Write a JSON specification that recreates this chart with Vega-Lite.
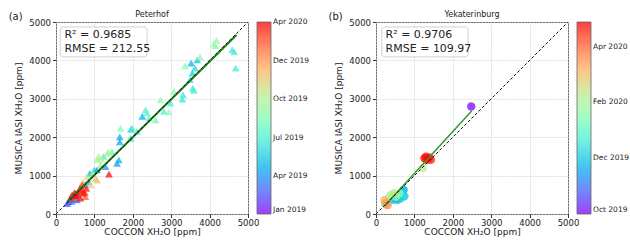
{
  "$schema": "https://vega.github.io/schema/vega-lite/v6.json",
  "padding": {"left": 8, "top": 10, "right": 0, "bottom": 0},
  "config": {
    "font": "DejaVu Sans",
    "view": {"stroke": "#333", "strokeWidth": 1},
    "axis": {"labelFontSize": 8.5, "titleFontSize": 9, "titleFontWeight": "normal", "labelColor": "#222", "titleColor": "#222", "domain": false, "tickColor": "#333", "tickSize": 3.5, "gridColor": "#d9d9d9", "gridDash": [2, 1], "gridWidth": 0.8, "labelFlush": false, "labelOverlap": false, "format": "d", "labelPadding": 2},
    "axisX": {"titlePadding": 0, "labelPadding": 1},
    "axisY": {"titlePadding": 5},
    "legend": {"orient": "right", "offset": 9, "gradientLength": 192, "gradientThickness": 14, "gradientStrokeColor": "#333", "gradientStrokeWidth": 0.8, "labelFontSize": 7.5, "labelColor": "#222", "labelOffset": 5, "labelBaseline": "middle", "labelOverlap": false, "padding": 0}
  },
  "datasets": {
    "diag": [{"x": 0, "y": 0}, {"x": 5000, "y": 5000}],
    "fitA": [{"x": 300, "y": 325}, {"x": 4700, "y": 4660}],
    "fitB": [{"x": 230, "y": 215}, {"x": 2490, "y": 2680}],
    "statsA": [{"line": "R² = 0.9685", "y": 4660}, {"line": "RMSE = 212.55", "y": 4300}],
    "statsB": [{"line": "R² = 0.9706", "y": 4660}, {"line": "RMSE = 109.97", "y": 4300}],
    "tagA": [{"tag": "(a)", "site": "Peterhof"}],
    "tagB": [{"tag": "(b)", "site": "Yekaterinburg"}]
  },
  "spacing": 18,
  "resolve": {"scale": {"color": "independent"}, "legend": {"color": "independent"}},
  "hconcat": [
    {
      "width": 192,
      "height": 192,
      "layer": [
        {
          "data": {"format": {"parse": {"date": "date"}}, "values": [
            {"x": 290, "y": 270, "date": "2019-02-15"},
            {"x": 330, "y": 320, "date": "2019-02-20"},
            {"x": 550, "y": 365, "date": "2019-03-01"},
            {"x": 450, "y": 380, "date": "2019-03-05"},
            {"x": 400, "y": 330, "date": "2019-03-10"},
            {"x": 650, "y": 580, "date": "2019-03-20"},
            {"x": 765, "y": 760, "date": "2019-03-25"},
            {"x": 1070, "y": 1150, "date": "2019-04-01"},
            {"x": 1290, "y": 1230, "date": "2019-04-05"},
            {"x": 1590, "y": 1320, "date": "2019-04-10"},
            {"x": 1660, "y": 1880, "date": "2019-04-15"},
            {"x": 1660, "y": 2010, "date": "2019-04-20"},
            {"x": 1635, "y": 1410, "date": "2019-04-25"},
            {"x": 880, "y": 1060, "date": "2019-04-28"},
            {"x": 2250, "y": 2540, "date": "2019-04-28"},
            {"x": 3520, "y": 3930, "date": "2019-05-01"},
            {"x": 850, "y": 840, "date": "2019-05-05"},
            {"x": 3680, "y": 4010, "date": "2019-05-10"},
            {"x": 1000, "y": 1150, "date": "2019-05-15"},
            {"x": 3550, "y": 3670, "date": "2019-05-20"},
            {"x": 1950, "y": 2200, "date": "2019-05-25"},
            {"x": 3620, "y": 3800, "date": "2019-06-01"},
            {"x": 1940, "y": 1970, "date": "2019-06-05"},
            {"x": 3490, "y": 3500, "date": "2019-06-10"},
            {"x": 3310, "y": 3100, "date": "2019-06-15"},
            {"x": 3290, "y": 2990, "date": "2019-06-18"},
            {"x": 3560, "y": 3280, "date": "2019-06-20"},
            {"x": 4680, "y": 3800, "date": "2019-06-22"},
            {"x": 3590, "y": 3220, "date": "2019-06-24"},
            {"x": 4590, "y": 4280, "date": "2019-06-25"},
            {"x": 1980, "y": 2240, "date": "2019-06-25"},
            {"x": 4640, "y": 4220, "date": "2019-06-28"},
            {"x": 2980, "y": 2890, "date": "2019-06-30"},
            {"x": 2110, "y": 2150, "date": "2019-07-01"},
            {"x": 1240, "y": 1500, "date": "2019-07-01"},
            {"x": 2810, "y": 2670, "date": "2019-07-05"},
            {"x": 2330, "y": 2710, "date": "2019-07-10"},
            {"x": 2370, "y": 2630, "date": "2019-07-15"},
            {"x": 2420, "y": 2500, "date": "2019-07-20"},
            {"x": 1460, "y": 1620, "date": "2019-07-25"},
            {"x": 2590, "y": 2450, "date": "2019-08-05"},
            {"x": 3070, "y": 3190, "date": "2019-08-10"},
            {"x": 1680, "y": 2230, "date": "2019-08-15"},
            {"x": 3360, "y": 3860, "date": "2019-08-20"},
            {"x": 2720, "y": 2970, "date": "2019-08-25"},
            {"x": 4150, "y": 4380, "date": "2019-08-28"},
            {"x": 2940, "y": 2660, "date": "2019-08-30"},
            {"x": 3750, "y": 4090, "date": "2019-09-01"},
            {"x": 4110, "y": 4430, "date": "2019-09-05"},
            {"x": 4180, "y": 4520, "date": "2019-09-10"},
            {"x": 1070, "y": 1410, "date": "2019-09-15"},
            {"x": 1370, "y": 1610, "date": "2019-09-20"},
            {"x": 1160, "y": 1280, "date": "2019-09-25"},
            {"x": 1180, "y": 1430, "date": "2019-10-01"},
            {"x": 1110, "y": 1500, "date": "2019-10-05"},
            {"x": 1330, "y": 1580, "date": "2019-10-10"},
            {"x": 960, "y": 1050, "date": "2019-10-15"},
            {"x": 810, "y": 980, "date": "2019-10-25"},
            {"x": 900, "y": 760, "date": "2019-11-10"},
            {"x": 1070, "y": 880, "date": "2019-11-20"},
            {"x": 1030, "y": 930, "date": "2019-11-25"},
            {"x": 700, "y": 820, "date": "2019-12-05"},
            {"x": 765, "y": 450, "date": "2020-02-10"},
            {"x": 460, "y": 450, "date": "2020-02-20"},
            {"x": 680, "y": 760, "date": "2020-02-25"},
            {"x": 750, "y": 560, "date": "2020-02-28"},
            {"x": 600, "y": 600, "date": "2020-03-05"},
            {"x": 480, "y": 560, "date": "2020-03-08"},
            {"x": 620, "y": 670, "date": "2020-03-10"},
            {"x": 700, "y": 620, "date": "2020-03-12"},
            {"x": 790, "y": 670, "date": "2020-03-15"},
            {"x": 375, "y": 410, "date": "2020-03-18"},
            {"x": 720, "y": 540, "date": "2020-03-20"},
            {"x": 505, "y": 540, "date": "2020-03-22"},
            {"x": 1380, "y": 1040, "date": "2020-03-25"},
            {"x": 560, "y": 520, "date": "2020-03-25"},
            {"x": 635, "y": 410, "date": "2020-03-28"},
            {"x": 420, "y": 500, "date": "2020-03-30"},
            {"x": 520, "y": 480, "date": "2020-04-01"}
          ]},
          "mark": {"type": "point", "shape": "triangle-up", "filled": true, "size": 60, "opacity": 0.75},
          "encoding": {
            "x": {"field": "x", "type": "quantitative", "scale": {"domain": [0, 5000], "nice": false}, "axis": {"title": "COCCON XH₂O [ppm]", "values": [0, 1000, 2000, 3000, 4000, 5000]}},
            "y": {"field": "y", "type": "quantitative", "scale": {"domain": [0, 5000], "nice": false}, "axis": {"title": "MUSICA IASI XH₂O [ppm]", "values": [0, 1000, 2000, 3000, 4000, 5000]}},
            "color": {"field": "date", "type": "quantitative",
              "scale": {"type": "linear", "zero": false, "nice": false, "domain": [1546300800000, 1551236400000, 1556172000000, 1561107600000, 1566043200000, 1570978800000, 1575914400000, 1580850000000, 1585785600000],
                "range": ["#8000ff", "#4062fa", "#00b4ec", "#40ecd4", "#80ffb4", "#bfec8e", "#ffb462", "#ff6232", "#ff0000"], "interpolate": "rgb"},
              "legend": {"title": null, "labelExpr": "utcFormat(datum.value, '%b %Y')",
                "values": [1546300800000, 1554163200000, 1562025600000, 1569888000000, 1577750400000, 1585699200000]}}
          }
        },
        {
          "data": {"name": "fitA"},
          "mark": {"type": "line", "color": "#1f7f1f", "strokeWidth": 2},
          "encoding": {"x": {"field": "x", "type": "quantitative", "axis": {"title": "COCCON XH₂O [ppm]", "values": [0, 1000, 2000, 3000, 4000, 5000]}}, "y": {"field": "y", "type": "quantitative", "axis": {"title": "MUSICA IASI XH₂O [ppm]", "values": [0, 1000, 2000, 3000, 4000, 5000]}}}
        },
        {
          "data": {"name": "diag"},
          "mark": {"type": "line", "color": "#111", "strokeWidth": 1, "strokeDash": [3, 2]},
          "encoding": {"x": {"field": "x", "type": "quantitative", "axis": {"title": "COCCON XH₂O [ppm]", "values": [0, 1000, 2000, 3000, 4000, 5000]}}, "y": {"field": "y", "type": "quantitative", "axis": {"title": "MUSICA IASI XH₂O [ppm]", "values": [0, 1000, 2000, 3000, 4000, 5000]}}}
        },
        {
          "data": {"name": "tagA"},
          "mark": {"type": "rect", "fill": "white", "stroke": "#cccccc", "strokeWidth": 1, "cornerRadius": 3, "opacity": 0.9},
          "encoding": {"x": {"datum": 110, "type": "quantitative", "axis": {"title": "COCCON XH₂O [ppm]", "values": [0, 1000, 2000, 3000, 4000, 5000]}}, "x2": {"datum": 2370}, "y": {"datum": 4870, "type": "quantitative", "axis": {"title": "MUSICA IASI XH₂O [ppm]", "values": [0, 1000, 2000, 3000, 4000, 5000]}}, "y2": {"datum": 4090}}
        },
        {
          "data": {"name": "statsA"},
          "mark": {"type": "text", "align": "left", "baseline": "middle", "fontSize": 11, "color": "#222"},
          "encoding": {"x": {"datum": 220, "type": "quantitative", "axis": {"title": "COCCON XH₂O [ppm]", "values": [0, 1000, 2000, 3000, 4000, 5000]}}, "y": {"field": "y", "type": "quantitative", "axis": {"title": "MUSICA IASI XH₂O [ppm]", "values": [0, 1000, 2000, 3000, 4000, 5000]}}, "text": {"field": "line"}}
        },
        {
          "data": {"name": "tagA"},
          "mark": {"type": "text", "align": "center", "baseline": "middle", "fontSize": 10, "dy": -5, "color": "#222"},
          "encoding": {"x": {"datum": -1050, "type": "quantitative", "axis": {"title": "COCCON XH₂O [ppm]", "values": [0, 1000, 2000, 3000, 4000, 5000]}}, "y": {"datum": 5000, "type": "quantitative", "axis": {"title": "MUSICA IASI XH₂O [ppm]", "values": [0, 1000, 2000, 3000, 4000, 5000]}}, "text": {"field": "tag"}}
        },
        {
          "data": {"name": "tagA"},
          "mark": {"type": "text", "align": "center", "baseline": "middle", "fontSize": 8, "dy": -7, "color": "#222"},
          "encoding": {"x": {"datum": 2500, "type": "quantitative", "axis": {"title": "COCCON XH₂O [ppm]", "values": [0, 1000, 2000, 3000, 4000, 5000]}}, "y": {"datum": 5000, "type": "quantitative", "axis": {"title": "MUSICA IASI XH₂O [ppm]", "values": [0, 1000, 2000, 3000, 4000, 5000]}}, "text": {"field": "site"}}
        }
      ]
    },
    {
      "width": 192,
      "height": 192,
      "layer": [
        {
          "data": {"format": {"parse": {"date": "date"}}, "values": [
            {"x": 2480, "y": 2800, "date": "2019-10-03"},
            {"x": 540, "y": 390, "date": "2019-11-10"},
            {"x": 720, "y": 630, "date": "2019-11-15"},
            {"x": 440, "y": 370, "date": "2019-11-25"},
            {"x": 740, "y": 460, "date": "2019-11-28"},
            {"x": 460, "y": 430, "date": "2019-11-30"},
            {"x": 570, "y": 370, "date": "2019-12-01"},
            {"x": 700, "y": 580, "date": "2019-12-02"},
            {"x": 650, "y": 410, "date": "2019-12-05"},
            {"x": 680, "y": 500, "date": "2019-12-10"},
            {"x": 230, "y": 260, "date": "2020-01-05"},
            {"x": 610, "y": 540, "date": "2020-01-15"},
            {"x": 520, "y": 450, "date": "2020-01-25"},
            {"x": 390, "y": 500, "date": "2020-02-01"},
            {"x": 350, "y": 450, "date": "2020-02-05"},
            {"x": 1220, "y": 1190, "date": "2020-02-10"},
            {"x": 480, "y": 540, "date": "2020-02-15"},
            {"x": 220, "y": 360, "date": "2020-03-10"},
            {"x": 260, "y": 280, "date": "2020-03-15"},
            {"x": 300, "y": 230, "date": "2020-03-20"},
            {"x": 1320, "y": 1410, "date": "2020-04-18"},
            {"x": 1430, "y": 1410, "date": "2020-04-20"},
            {"x": 1350, "y": 1430, "date": "2020-04-22"},
            {"x": 1390, "y": 1470, "date": "2020-04-23"},
            {"x": 1260, "y": 1450, "date": "2020-04-25"},
            {"x": 1300, "y": 1490, "date": "2020-04-27"}
          ]},
          "mark": {"type": "circle", "size": 70, "opacity": 0.75},
          "encoding": {
            "x": {"field": "x", "type": "quantitative", "scale": {"domain": [0, 5000], "nice": false}, "axis": {"title": "COCCON XH₂O [ppm]", "values": [0, 1000, 2000, 3000, 4000, 5000]}},
            "y": {"field": "y", "type": "quantitative", "scale": {"domain": [0, 5000], "nice": false}, "axis": {"title": "MUSICA IASI XH₂O [ppm]", "values": [0, 1000, 2000, 3000, 4000, 5000]}},
            "color": {"field": "date", "type": "quantitative",
              "scale": {"type": "linear", "zero": false, "nice": false, "domain": [1569888000000, 1572166800000, 1574445600000, 1576724400000, 1579003200000, 1581282000000, 1583560800000, 1585839600000, 1588118400000],
                "range": ["#8000ff", "#4062fa", "#00b4ec", "#40ecd4", "#80ffb4", "#bfec8e", "#ffb462", "#ff6232", "#ff0000"], "interpolate": "rgb"},
              "legend": {"title": null, "labelExpr": "utcFormat(datum.value, '%b %Y')",
                "values": [1569888000000, 1575158400000, 1580515200000, 1585699200000]}}
          }
        },
        {
          "data": {"name": "fitB"},
          "mark": {"type": "line", "color": "#2e9a2e", "strokeWidth": 1.5},
          "encoding": {"x": {"field": "x", "type": "quantitative", "axis": {"title": "COCCON XH₂O [ppm]", "values": [0, 1000, 2000, 3000, 4000, 5000]}}, "y": {"field": "y", "type": "quantitative", "axis": {"title": "MUSICA IASI XH₂O [ppm]", "values": [0, 1000, 2000, 3000, 4000, 5000]}}}
        },
        {
          "data": {"name": "diag"},
          "mark": {"type": "line", "color": "#111", "strokeWidth": 1, "strokeDash": [3, 2]},
          "encoding": {"x": {"field": "x", "type": "quantitative", "axis": {"title": "COCCON XH₂O [ppm]", "values": [0, 1000, 2000, 3000, 4000, 5000]}}, "y": {"field": "y", "type": "quantitative", "axis": {"title": "MUSICA IASI XH₂O [ppm]", "values": [0, 1000, 2000, 3000, 4000, 5000]}}}
        },
        {
          "data": {"name": "tagB"},
          "mark": {"type": "rect", "fill": "white", "stroke": "#cccccc", "strokeWidth": 1, "cornerRadius": 3, "opacity": 0.9},
          "encoding": {"x": {"datum": 150, "type": "quantitative", "axis": {"title": "COCCON XH₂O [ppm]", "values": [0, 1000, 2000, 3000, 4000, 5000]}}, "x2": {"datum": 2400}, "y": {"datum": 4870, "type": "quantitative", "axis": {"title": "MUSICA IASI XH₂O [ppm]", "values": [0, 1000, 2000, 3000, 4000, 5000]}}, "y2": {"datum": 4090}}
        },
        {
          "data": {"name": "statsB"},
          "mark": {"type": "text", "align": "left", "baseline": "middle", "fontSize": 11, "color": "#222"},
          "encoding": {"x": {"datum": 250, "type": "quantitative", "axis": {"title": "COCCON XH₂O [ppm]", "values": [0, 1000, 2000, 3000, 4000, 5000]}}, "y": {"field": "y", "type": "quantitative", "axis": {"title": "MUSICA IASI XH₂O [ppm]", "values": [0, 1000, 2000, 3000, 4000, 5000]}}, "text": {"field": "line"}}
        },
        {
          "data": {"name": "tagB"},
          "mark": {"type": "text", "align": "center", "baseline": "middle", "fontSize": 10, "dy": -5, "color": "#222"},
          "encoding": {"x": {"datum": -1050, "type": "quantitative", "axis": {"title": "COCCON XH₂O [ppm]", "values": [0, 1000, 2000, 3000, 4000, 5000]}}, "y": {"datum": 5000, "type": "quantitative", "axis": {"title": "MUSICA IASI XH₂O [ppm]", "values": [0, 1000, 2000, 3000, 4000, 5000]}}, "text": {"field": "tag"}}
        },
        {
          "data": {"name": "tagB"},
          "mark": {"type": "text", "align": "center", "baseline": "middle", "fontSize": 8, "dy": -7, "color": "#222"},
          "encoding": {"x": {"datum": 2500, "type": "quantitative", "axis": {"title": "COCCON XH₂O [ppm]", "values": [0, 1000, 2000, 3000, 4000, 5000]}}, "y": {"datum": 5000, "type": "quantitative", "axis": {"title": "MUSICA IASI XH₂O [ppm]", "values": [0, 1000, 2000, 3000, 4000, 5000]}}, "text": {"field": "site"}}
        }
      ]
    }
  ]
}
